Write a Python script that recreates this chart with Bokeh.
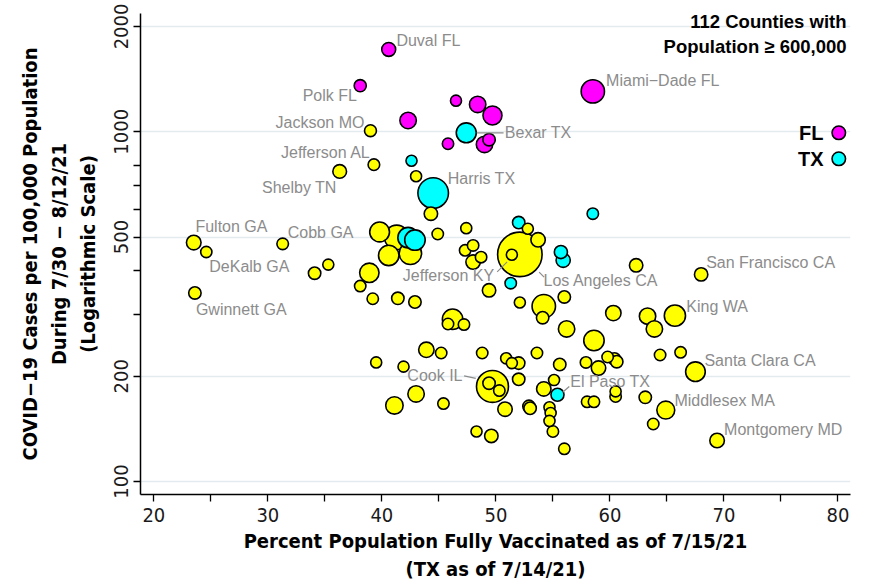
import numpy as np
from bokeh.plotting import figure
from bokeh.models import Range1d, FixedTicker, ColumnDataSource, Label
from bokeh.core.properties import value
from bokeh.embed import file_html
from bokeh.resources import INLINE

# ---------------- data ----------------
# Florida counties: percent fully vaccinated, cases per 100k, population (millions)
fl_county = ["Duval FL", "Polk FL", "", "", "", "", "", "", "", "Miami\u2212Dade FL"]
fl_vax    = [40.6, 38.1, 46.5, 48.4, 49.7, 42.3, 45.8, 49.0, 49.4, 58.5]
fl_cases  = [1719, 1354, 1227, 1197, 1113, 1077, 924, 920, 949, 1304]
fl_pop    = [0.96, 0.72, 0.60, 1.34, 1.80, 1.34, 0.64, 1.34, 0.76, 2.72]

# Texas counties
tx_county = ["Bexar TX", "", "Harris TX", "", "", "", "", "", "", "", "El Paso TX"]
tx_vax    = [47.4, 42.6, 44.5, 42.3, 42.9, 52.0, 58.5, 55.7, 55.9, 51.3, 55.4]
tx_cases  = [993, 826, 668, 498, 490, 550, 583, 453, 429, 369, 177]
tx_pop    = [2.0, 0.60, 4.7, 2.1, 2.1, 0.76, 0.64, 0.85, 1.0, 0.64, 0.84]

# Other counties
ot_county = ["Jackson MO", "Jefferson AL", "Shelby TN", "", "", "", "", "", "", "",
             "", "", "", "", "", "", "", "", "", "Los Angeles CA",
             "Jefferson KY", "", "", "", "", "", "", "", "", "San Francisco CA",
             "", "King WA", "", "", "", "", "", "", "", "",
             "", "", "", "", "", "", "", "", "Santa Clara CA", "Cook IL",
             "", "", "", "", "", "", "", "", "Middlesex MA", "",
             "", "", "", "", "", "", "", "", "", "",
             "", "", "", "Montgomery MD", "Fulton GA", "DeKalb GA", "Cobb GA", "", "", "Gwinnett GA",
             "", "", "", "", "", "", "", "", "", "",
             ""]
ot_vax = [39.0, 39.3, 36.3, 43.0, 44.3, 39.8, 41.3, 40.6, 42.5, 44.9,
          47.4, 47.3, 48.0, 48.7, 48.0, 49.4, 46.2, 45.8, 47.2, 52.1,
          51.4, 52.8, 53.7, 52.1, 54.2, 56.0, 62.3, 60.3, 54.1, 68.0,
          63.3, 65.7, 63.9, 56.2, 58.6, 48.8, 53.6, 50.9, 51.4, 52.0,
          55.6, 57.9, 59.0, 59.8, 60.4, 60.6, 64.4, 66.2, 67.5, 49.7,
          49.4, 50.3, 52.0, 54.2, 55.1, 60.5, 60.5, 63.1, 64.9, 45.4,
          50.8, 52.9, 53.0, 54.7, 54.8, 54.7, 55.0, 58.0, 58.6, 48.3,
          49.6, 56.0, 63.8, 69.4, 23.5, 24.6, 31.3, 35.3, 34.1, 23.6,
          38.9, 38.1, 39.2, 41.4, 42.9, 43.9, 45.2, 39.5, 41.9, 43.0,
          41.1]
ot_cases = [1007, 805, 770, 746, 583, 517, 499, 443, 449, 510,
            530, 458, 473, 438, 424, 352, 291, 282, 281, 446,
            445, 528, 491, 325, 317, 337, 415, 303, 294, 391,
            297, 298, 273, 273, 253, 233, 233, 225, 218, 218,
            216, 219, 211, 227, 224, 220, 230, 234, 206, 187,
            191, 182, 196, 184, 195, 181, 175, 174, 160, 167,
            161, 164, 162, 163, 157, 149, 139, 169, 169, 139,
            135, 124, 146, 131, 482, 453, 478, 417, 394, 346,
            395, 362, 333, 334, 326, 238, 233, 219, 213, 178,
            165]
ot_pop = [0.70, 0.66, 0.93, 0.60, 0.89, 1.96, 2.99, 2.08, 2.51, 0.64,
          0.60, 0.64, 0.64, 0.64, 1.03, 0.89, 2.08, 0.64, 0.64, 10.0,
          0.60, 0.60, 1.03, 0.60, 2.75, 0.76, 0.89, 1.18, 0.76, 0.88,
          1.34, 2.25, 1.34, 1.34, 2.08, 0.64, 0.64, 0.60, 0.60, 0.76,
          0.76, 0.64, 1.03, 0.64, 0.76, 0.76, 0.64, 0.64, 1.93, 5.15,
          0.76, 0.64, 0.76, 1.03, 0.60, 0.60, 0.64, 0.76, 1.60, 0.64,
          1.03, 0.76, 0.76, 0.60, 0.60, 0.60, 0.64, 0.64, 0.64, 0.60,
          0.89, 0.64, 0.64, 1.05, 1.06, 0.62, 0.66, 0.60, 0.76, 0.76,
          1.88, 0.64, 0.64, 0.76, 0.76, 1.18, 0.64, 0.60, 0.60, 1.34,
          1.51]

x_ticks = [20, 25, 30, 35, 40, 45, 50, 55, 60, 65, 70, 75, 80]
x_tick_labels = ["20", "", "30", "", "40", "", "50", "", "60", "", "70", "", "80"]
y_ticks = [100, 200, 300, 400, 500, 600, 700, 800, 1000, 2000]
y_tick_labels = ["100", "200", "", "", "500", "", "", "", "1000", "2000"]
y_grid = [100, 200, 500, 1000, 2000]

# ---------------- styles / layout ----------------
W, H = 894, 584
FL_, FR_, FT_, FB_ = 140, 44, 13, 90
FW, FH = W - FL_ - FR_, H - FT_ - FB_
X0, X1 = 18.83, 81.1
Y0, Y1 = 91.8, 2178.0
XS = FW / (X1 - X0)
YS = FH / np.log10(Y1 / Y0)

COLORS = {"FL": "#ff00ff", "TX": "#00ffff", "OT": "#ffff00"}
LW = 1.6
NARROW = "DejaVu Sans Condensed"
SANS = "Liberation Sans"

# label offsets in screen pixels (dx right, dy down) and alignment
LABEL_STYLE = {
    "Duval FL": (7.7, -9, "left"),
    "Polk FL": (-3.3, 9.7, "right"),
    "Jackson MO": (-6, -8.6, "right"),
    "Jefferson AL": (-3.3, -12, "right"),
    "Shelby TN": (-3, 15.7, "right"),
    "Harris TX": (14.6, -14.4, "left"),
    "Miami\u2212Dade FL": (13.3, -10.7, "left"),
    "Bexar TX": (38.6, 0, "left"),
    "Fulton GA": (1.7, -15.6, "left"),
    "Cobb GA": (5, -11.6, "left"),
    "DeKalb GA": (3, 14.3, "left"),
    "Gwinnett GA": (1, 16.7, "left"),
    "Jefferson KY": (-17.7, 20.7, "right"),
    "Los Angeles CA": (23.7, 26, "left"),
    "San Francisco CA": (5, -11.7, "left"),
    "King WA": (11.4, -9, "left"),
    "Santa Clara CA": (9, -11.5, "left"),
    "Cook IL": (-30, -10.6, "right"),
    "El Paso TX": (12.8, -13.6, "left"),
    "Middlesex MA": (8.6, -10, "left"),
    "Montgomery MD": (7, -11.3, "left"),
}
LEADERS = {
    "Bexar TX": ((10.3, 0), (37.3, 0)),
    "Jefferson KY": ((-4.7, 7.2), (-14.7, 17.2)),
    "Los Angeles CA": ((19.3, 17.7), (24.3, 22.7)),
    "Cook IL": ((-16.7, -8), (-28.4, -10.6)),
    "El Paso TX": ((5.2, -2.6), (11.8, -8.3)),
}


def shift(x, y, dx, dy):
    return x + dx / XS, y * 10 ** (-dy / YS)


def screen_to_data(px, py):
    return X0 + (px - FL_) / XS, Y0 * 10 ** ((FT_ + FH - py) / YS)


county = fl_county + tx_county + ot_county
vax = fl_vax + tx_vax + ot_vax
cases = fl_cases + tx_cases + ot_cases
pop = fl_pop + tx_pop + ot_pop
grp = ["FL"] * len(fl_vax) + ["TX"] * len(tx_vax) + ["OT"] * len(ot_vax)

radius = 0.9 + 7.0 * np.sqrt(np.array(pop))
size = 2 * radius - LW
order = np.argsort(-np.array(pop), kind="stable")

src = ColumnDataSource(dict(
    x=[vax[i] for i in order],
    y=[cases[i] for i in order],
    size=[size[i] for i in order],
    color=[COLORS[grp[i]] for i in order],
))

p = figure(width=W, height=H, frame_width=FW, frame_height=FH,
           min_border_left=FL_, min_border_right=FR_, min_border_top=FT_, min_border_bottom=FB_,
           x_range=Range1d(X0, X1), y_range=Range1d(Y0, Y1), y_axis_type="log",
           output_backend="svg", toolbar_location=None, background_fill_color="white")
p.outline_line_color = None

# grid
p.xgrid.visible = False
p.ygrid.ticker = FixedTicker(ticks=y_grid)
p.ygrid.grid_line_color = "#e4ebee"
p.ygrid.grid_line_width = 1.5

# axes
for ax in (p.xaxis[0], p.yaxis[0]):
    ax.axis_line_color = "black"
    ax.axis_line_width = 1.5
    ax.major_tick_line_color = "black"
    ax.major_tick_line_width = 1.3
    ax.major_tick_out = 7
    ax.major_tick_in = 0
    ax.minor_tick_line_color = None
    ax.major_label_text_font = NARROW
    ax.major_label_text_font_size = "20px"
    ax.major_label_text_color = "#1a1a1a"
    ax.axis_label_text_font = NARROW
    ax.axis_label_text_font_size = "20px"
    ax.axis_label_text_font_style = "bold"
    ax.axis_label_text_color = "black"

p.xaxis.ticker = FixedTicker(ticks=x_ticks)
p.xaxis.major_label_overrides = {t: l for t, l in zip(x_ticks, x_tick_labels)}
p.xaxis.major_label_standoff = 6
p.xaxis.axis_label = "Percent Population Fully Vaccinated as of 7/15/21\n(TX as of 7/14/21)"
p.xaxis.axis_label_standoff = 4

p.yaxis.ticker = FixedTicker(ticks=y_ticks)
p.yaxis.major_label_overrides = {t: l for t, l in zip(y_ticks, y_tick_labels)}
p.yaxis.major_label_orientation = "vertical"
p.yaxis.major_label_standoff = 5
p.yaxis.axis_label = ("COVID\u221219 Cases per 100,000 Population\n"
                      "During 7/30 \u2212 8/12/21\n(Logarithmic Scale)")
p.yaxis.axis_label_standoff = 12

# bubbles
p.scatter("x", "y", size="size", source=src, fill_color="color",
          line_color="black", line_width=LW)

# labels and leader lines
lab = dict(x=[], y=[], text=[], dx=[], dy=[], align=[])
for c, xv, yv in zip(county, vax, cases):
    if not c:
        continue
    dx, dy, al = LABEL_STYLE[c]
    lab["x"].append(xv); lab["y"].append(yv); lab["text"].append(c)
    lab["dx"].append(dx); lab["dy"].append(dy); lab["align"].append(al)
    if c in LEADERS:
        (a1, b1), (a2, b2) = LEADERS[c]
        xs0, ys0 = shift(xv, yv, a1, b1)
        xs1, ys1 = shift(xv, yv, a2, b2)
        p.segment(x0=[xs0], y0=[ys0], x1=[xs1], y1=[ys1], line_color="#8c8c8c", line_width=1.2)

p.text("x", "y", text="text", x_offset="dx", y_offset="dy", text_align="align",
       text_baseline="middle", source=ColumnDataSource(lab),
       text_font=value(SANS), text_font_size="16px", text_color="#8c8c8c")

# title (top right)
for txt, py in (("112 Counties with", 20.7), ("Population \u2265 600,000", 45.7)):
    p.add_layout(Label(x=846 - FL_, y=FT_ + FH - py, x_units="screen", y_units="screen",
                       text=txt, text_align="right", text_baseline="middle",
                       text_font=SANS, text_font_size="18.5px", text_font_style="bold",
                       text_color="black"))

# legend (text left of circle)
for g, txt, py in (("FL", "FL", 132.3), ("TX", "TX", 158.3)):
    p.add_layout(Label(x=823 - FL_, y=FT_ + FH - py, x_units="screen", y_units="screen",
                       text=txt, text_align="right", text_baseline="middle",
                       text_font=SANS, text_font_size="20px", text_font_style="bold",
                       text_color="black"))
    lx, ly = screen_to_data(838.3, py)
    p.scatter([lx], [ly], size=13.5, fill_color=COLORS[g], line_color="black", line_width=LW)

open("out.html", "w").write(file_html(p, INLINE))
